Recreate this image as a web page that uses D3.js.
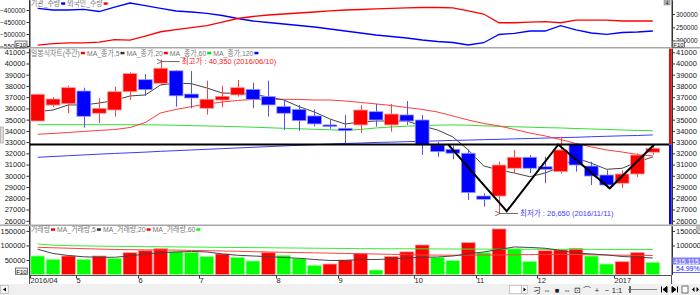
<!DOCTYPE html>
<html>
<head>
<meta charset="utf-8">
<script src="https://cdn.jsdelivr.net/npm/d3@7"></script>
<style>
  body { margin: 0; background: #fff; }
  svg text { font-family: "Liberation Sans", "Noto Sans CJK KR", sans-serif; }
</style>
</head>
<body>
<svg id="chart" width="700" height="295"></svg>
<script>
// Weekly candles, week ending 2016/04/15 .. 2017/01/20
var opens  = [34880, 36300, 36420, 37550, 35570, 35860, 37490, 38560, 38240, 39350, 37280, 36010, 36750, 37200, 37700, 37050, 36160, 35920, 35330, 34530, 34230, 34530, 35710, 34530, 35420, 34970, 32750, 32360, 32010, 28200, 28200, 30670, 31650, 30810, 30370, 32810, 30870, 30070, 29340, 30160, 32100];
var highs  = [37300, 37000, 38030, 37850, 36900, 37940, 39220, 39040, 40350, 39400, 39330, 38470, 38000, 38530, 38290, 38470, 36750, 36310, 35920, 34970, 35420, 36300, 36400, 36400, 36660, 35420, 33040, 32660, 32360, 28450, 31260, 32300, 31850, 31700, 33490, 32900, 31260, 30500, 30500, 32000, 32800];
var lows   = [34880, 36100, 35570, 34290, 34680, 35270, 36750, 37130, 38030, 36160, 36010, 35450, 36100, 37050, 36010, 35270, 34080, 34000, 34400, 34200, 32900, 33840, 34380, 33930, 34530, 31850, 31700, 31470, 27850, 27250, 26650, 30230, 30230, 29340, 30200, 30370, 29180, 28900, 28890, 29900, 31900];
var closes = [37260, 36840, 37850, 35300, 36010, 37490, 39100, 37670, 39580, 37120, 36930, 36820, 37080, 37850, 36810, 36310, 35570, 34910, 34620, 34380, 34020, 35860, 34970, 35500, 34880, 32750, 32150, 32010, 28500, 27910, 30960, 31650, 30670, 30580, 32300, 30960, 29980, 29180, 30160, 31850, 32450];

// price moving averages
var ma5   = [35710, 35860, 36310, 36310, 36480, 36710, 37110, 37200, 38100, 38250, 38200, 37820, 37370, 37350, 37260, 37020, 36750, 36160, 35680, 35060, 34610, 34800, 34880, 34880, 34880, 34440, 34080, 33460, 32300, 30880, 30520, 30250, 29920, 30250, 30790, 31590, 31120, 30580, 30670, 31230, 31680];
var ma20  = [33700, 33770, 33860, 33950, 34040, 34120, 34300, 34750, 35600, 35910, 36160, 36400, 36570, 36710, 36800, 36810, 36810, 36800, 36750, 36750, 36660, 36530, 36400, 36260, 36080, 35910, 35680, 35330, 34970, 34660, 34440, 34130, 33810, 33550, 33230, 32880, 32570, 32300, 32120, 31900, 31770];
var ma60  = [34550, 34550, 34550, 34550, 34550, 34550, 34550, 34540, 34530, 34500, 34470, 34440, 34410, 34370, 34330, 34280, 34230, 34190, 34140, 34100, 34040, 34130, 34260, 34350, 34420, 34470, 34510, 34530, 34510, 34450, 34410, 34370, 34330, 34290, 34260, 34210, 34170, 34130, 34080, 34040, 34010];
var ma120 = [31650, 31720, 31790, 31860, 31930, 31990, 32050, 32110, 32180, 32240, 32300, 32360, 32420, 32480, 32540, 32600, 32660, 32720, 32770, 32830, 32880, 32920, 32970, 33000, 33040, 33070, 33110, 33150, 33180, 33220, 33250, 33290, 33320, 33360, 33400, 33430, 33480, 33520, 33560, 33590, 33640];

// volume and its moving averages
var volumes = [63800, 52400, 63800, 52400, 63800, 55900, 75200, 82100, 89000, 78600, 76500, 61400, 70700, 59300, 46600, 75200, 66200, 54500, 31700, 36200, 50000, 72000, 15500, 62000, 78000, 101700, 59300, 48000, 109700, 75200, 156900, 87900, 45000, 82100, 84500, 90300, 63800, 36200, 44100, 75200, 42000];
var volMa5  = [86900, 72400, 65500, 61000, 59300, 59300, 63800, 70700, 75200, 77600, 79300, 77600, 70700, 66200, 63800, 61400, 58600, 55900, 51700, 48300, 48300, 51700, 51700, 53400, 56900, 59300, 60300, 63800, 70700, 77600, 86200, 94800, 93100, 90300, 82800, 74100, 70700, 67200, 62100, 59300, 56900];
var volMa20 = [93800, 92000, 90500, 89000, 87500, 86200, 85500, 85000, 84500, 84000, 83000, 82000, 81000, 80000, 78500, 77600, 76500, 75500, 74500, 73500, 72400, 71500, 70500, 69500, 68500, 67200, 66800, 66500, 66800, 67000, 67200, 68000, 68500, 69000, 69000, 69000, 68000, 67000, 66500, 66000, 65500];
var volMa60 = [105000, 101000, 99500, 98500, 97500, 97000, 96500, 96000, 95500, 95000, 94500, 94000, 93500, 93000, 92500, 92000, 91500, 91000, 90500, 90000, 89500, 89000, 88800, 88600, 88400, 88200, 88000, 87800, 87600, 87400, 87200, 87000, 86900, 86800, 86700, 86600, 86500, 86400, 86300, 86200, 86100];

// investor flows (top panel)
var instQty    = [-392900, -400000, -400000, -397100, -406300, -387500, -370800, -381300, -392900, -404200, -408300, -413800, -422900, -435400, -445800, -452100, -458300, -464600, -470800, -479200, -487500, -495800, -504200, -510400, -516700, -525000, -531300, -535400, -545800, -536300, -502100, -497100, -487500, -487500, -465400, -483300, -495800, -501300, -493800, -491700, -487500];
var foreignQty = [183500, 189100, 192100, 192100, 194700, 204100, 202300, 217300, 233500, 241700, 249200, 256800, 269900, 283100, 290600, 296200, 300000, 303800, 307500, 311300, 315000, 316900, 318800, 320700, 322600, 324400, 324400, 322600, 311300, 300000, 267300, 267300, 269900, 271100, 267300, 277400, 277400, 277400, 273700, 273700, 273700];

// axis ticks
var monthStarts = [0, 3, 7, 11, 16, 20, 25, 29, 33, 38];
var monthLabels = ["2016/04", "5", "6", "7", "8", "9", "10", "11", "12", "2017"];
var priceTicks = d3.range(26000, 41001, 1000);
var volTicks = [50000, 100000, 150000];
var volTicksRight = [100000, 150000];
var instTicks = [-400000, -450000, -500000, -550000];
var foreignTicks = [200000, 250000, 300000];

// drawn objects
var neckline = 32780;
var zigzag = [{i: 26.7, p: 32780}, {i: 30.5, p: 26850}, {i: 33.85, p: 32780}, {i: 37.2, p: 28890}, {i: 40.1, p: 32780}];
var highMark = {i: 8, p: 40350, label: "최고가 : 40,350 (2016/06/10)"};
var lowMark = {i: 30, p: 26650, label: "최저가 : 26,650 (2016/11/11)"};

var flowLegend = [{t: "기관_수량", c: "#0000ff"}, {t: "외국인_수량", c: "#ff0000"}];
var priceLegend = [{t: "일봉식차트(주간)", c: "#ff0000"}, {t: "MA_종가,5", c: "#333"}, {t: "MA_종가,20", c: "#ff0000"}, {t: "MA_종가,60", c: "#00dd00"}, {t: "MA_종가,120", c: "#0000ff"}];
var volLegend = [{t: "거래량", c: "#ff0000"}, {t: "MA_거래량,5", c: "#333"}, {t: "MA_거래량,20", c: "#ff0000"}, {t: "MA_거래량,60", c: "#00ff00"}];

var RED = "#ff0000", BLUE = "#0000ff", GREEN = "#00ff00";

var svg = d3.select("#chart");
var plotL = 30, plotR = 669;

// panels
var flowP = {top: 0, bottom: 47};
var priceP = {top: 48.5, bottom: 224.5};
var volP = {top: 226, bottom: 275};

// scales
var x = d3.scaleBand().domain(d3.range(opens.length)).range([30, 660.5]).paddingInner(0.1).paddingOuter(0.05);
var step = x.step(), bw = x.bandwidth();
function xc(i) { return x(0) + bw / 2 + i * step; }

var yP = d3.scaleLinear().domain([25620, 41380]).range([225, 48]);
var yV = d3.scaleLinear().domain([0, 167000]).range([274.5, 226]);
var yI = d3.scaleLinear().domain([-554200, -358300]).range([47, 0]);
var yF = d3.scaleLinear().domain([176400, 352400]).range([47, 0]);

// clip paths
var defs = svg.append("defs");
[["clipFlow", flowP], ["clipPrice", priceP], ["clipVol", volP]].forEach(function(c) {
    defs.append("clipPath").attr("id", c[0]).append("rect")
        .attr("x", plotL).attr("y", c[1].top)
        .attr("width", plotR - plotL).attr("height", c[1].bottom - c[1].top);
});
defs.append("marker").attr("id", "arrow").attr("viewBox", "0 0 6 6")
    .attr("refX", 0).attr("refY", 3).attr("markerWidth", 5).attr("markerHeight", 5)
    .attr("orient", "auto-start-reverse")
    .append("path").attr("d", "M6,0 L0,3 L6,6").attr("fill", "none").attr("stroke", "#555");

// bottom toolbar background
svg.append("rect").attr("x", 0).attr("y", 284).attr("width", 700).attr("height", 11).attr("fill", "#f0f0f0");

// axis helper
function styleAxis(size) {
    return function(g) {
        g.selectAll("text").attr("font-size", size).attr("fill", "#222");
        g.selectAll("line").attr("stroke", "#333");
        g.select(".domain").attr("stroke", "#333");
    };
}

// ---------- top panel: investor flows ----------
svg.append("g").attr("transform", "translate(29.5,0)")
    .call(d3.axisLeft(yI).tickValues(instTicks).tickSize(3).tickSizeOuter(0).tickPadding(1).tickFormat(d3.format("d")))
    .call(styleAxis("6.5px"));
svg.append("g").attr("transform", "translate(672,0)")
    .call(d3.axisRight(yF).tickValues(foreignTicks).tickSize(3).tickSizeOuter(0).tickPadding(1).tickFormat(d3.format("d")))
    .call(styleAxis("6.5px"));

var flowG = svg.append("g").attr("clip-path", "url(#clipFlow)");
flowG.append("path").datum(instQty)
    .attr("fill", "none").attr("stroke", BLUE).attr("stroke-width", 1.3)
    .attr("d", d3.line().x(function(d, i) { return xc(i); }).y(function(d) { return yI(d); }));
flowG.append("path").datum(foreignQty)
    .attr("fill", "none").attr("stroke", RED).attr("stroke-width", 1.3)
    .attr("d", d3.line().x(function(d, i) { return xc(i); }).y(function(d) { return yF(d); }));

// ---------- price panel ----------
svg.append("g").attr("transform", "translate(29.5,0)")
    .call(d3.axisLeft(yP).tickValues(priceTicks).tickSize(3).tickSizeOuter(0).tickPadding(1).tickFormat(d3.format("d")))
    .call(styleAxis("7.5px"));
svg.append("g").attr("transform", "translate(672,0)")
    .call(d3.axisRight(yP).tickValues(priceTicks).tickSize(3).tickSizeOuter(0).tickPadding(1).tickFormat(d3.format("d")))
    .call(styleAxis("7.5px"));

var priceG = svg.append("g").attr("clip-path", "url(#clipPrice)");

// moving averages under candles
var maLine = d3.line().x(function(d, i) { return xc(i); }).y(function(d) { return yP(d); });
[[ma120, "#3a3aff"], [ma60, "#33dd33"], [ma20, "#ff3a3a"], [ma5, "#444"]].forEach(function(m) {
    priceG.append("path").datum(m[0])
        .attr("fill", "none").attr("stroke", m[1]).attr("stroke-width", 1)
        .attr("d", maLine);
});

var candles = priceG.selectAll(".candle")
    .data(opens.map(function(o, i) { return {i: i, o: o, h: highs[i], l: lows[i], c: closes[i]}; }))
    .enter().append("g").attr("class", "candle");

candles.append("line")
    .attr("x1", function(d) { return Math.round(xc(d.i)) + 0.5; })
    .attr("x2", function(d) { return Math.round(xc(d.i)) + 0.5; })
    .attr("y1", function(d) { return yP(d.h); })
    .attr("y2", function(d) { return yP(d.l); })
    .attr("stroke", function(d) { return d.c >= d.o ? "#ff4040" : "#5050ff"; });

candles.append("rect")
    .attr("x", function(d) { return x(d.i); })
    .attr("width", bw)
    .attr("y", function(d) { return yP(Math.max(d.o, d.c)); })
    .attr("height", function(d) { return Math.max(1, yP(Math.min(d.o, d.c)) - yP(Math.max(d.o, d.c))); })
    .attr("fill", function(d) { return d.c >= d.o ? RED : BLUE; })
    .attr("stroke", function(d) { return d.c >= d.o ? "#ff9a9a" : "#9a9aff"; })
    .attr("stroke-width", 0.8);

// neckline and zigzag pattern
priceG.append("line")
    .attr("x1", plotL).attr("x2", plotR)
    .attr("y1", yP(neckline)).attr("y2", yP(neckline))
    .attr("stroke", "#000").attr("stroke-width", 2);
priceG.append("path").datum(zigzag)
    .attr("fill", "none").attr("stroke", "#000").attr("stroke-width", 2)
    .attr("d", d3.line().x(function(d) { return xc(d.i); }).y(function(d) { return yP(d.p); }));

// high / low notes (the high note sits a little under the wick top)
[[highMark, "#ff2020", 2], [lowMark, "#4040ff", 0]].forEach(function(m) {
    var mk = m[0], yy = yP(mk.p) + m[2];
    priceG.append("line")
        .attr("x1", xc(mk.i) + 1).attr("x2", xc(mk.i) + 19)
        .attr("y1", yy).attr("y2", yy)
        .attr("stroke", "#666").attr("stroke-width", 1)
        .attr("marker-start", "url(#arrow)");
    priceG.append("text")
        .attr("x", xc(mk.i) + 21).attr("y", yy).attr("dy", "0.35em")
        .attr("font-size", "7.5px").attr("fill", m[1])
        .text(mk.label);
});

// price bar at right edge
svg.append("rect").attr("x", 669).attr("y", priceP.top).attr("width", 2.5)
    .attr("height", yP(neckline) - priceP.top).attr("fill", RED);
svg.append("rect").attr("x", 669).attr("y", yP(neckline)).attr("width", 2.5)
    .attr("height", priceP.bottom - yP(neckline)).attr("fill", BLUE);

// ---------- volume panel ----------
svg.append("g").attr("transform", "translate(29.5,0)")
    .call(d3.axisLeft(yV).tickValues(volTicks).tickSize(3).tickSizeOuter(0).tickPadding(1).tickFormat(d3.format("d")))
    .call(styleAxis("7.5px"));
svg.append("g").attr("transform", "translate(672,0)")
    .call(d3.axisRight(yV).tickValues(volTicksRight).tickSize(3).tickSizeOuter(0).tickPadding(1).tickFormat(d3.format("d")))
    .call(styleAxis("7.5px"));

var volG = svg.append("g").attr("clip-path", "url(#clipVol)");
volG.selectAll(".vbar").data(volumes).enter().append("rect")
    .attr("class", "vbar")
    .attr("x", function(d, i) { return x(i); })
    .attr("width", bw)
    .attr("y", function(d) { return yV(d); })
    .attr("height", function(d) { return yV(0) - yV(d); })
    .attr("fill", function(d, i) { return i > 0 && d > volumes[i - 1] ? RED : GREEN; })
    .attr("stroke", function(d, i) { return i > 0 && d > volumes[i - 1] ? "#ffa0a0" : "#a0ffa0"; })
    .attr("stroke-width", 0.8);

var vLine = d3.line().x(function(d, i) { return xc(i); }).y(function(d) { return yV(d); });
[[volMa60, "#33ee33"], [volMa20, "#ff4040"], [volMa5, "#444"]].forEach(function(m) {
    volG.append("path").datum(m[0])
        .attr("fill", "none").attr("stroke", m[1]).attr("stroke-width", 1)
        .attr("d", vLine);
});

// last-volume boxes on right
svg.append("rect").attr("x", 672).attr("y", 257.5).attr("width", 28).attr("height", 7).attr("fill", "#8080ff");
svg.append("text").attr("x", 674).attr("y", 263.5).attr("font-size", "7px").attr("fill", "#fff").text("415,115");
svg.append("text").attr("x", 676).attr("y", 271).attr("font-size", "7px").attr("fill", "#2020ff").text("54.99%");
svg.append("line").attr("x1", 673).attr("x2", 700).attr("y1", 272.5).attr("y2", 272.5).attr("stroke", "#2020ff").attr("stroke-width", 0.7);

// ---------- x axis ----------
svg.append("line").attr("x1", 29).attr("x2", 672).attr("y1", 275.5).attr("y2", 275.5).attr("stroke", "#555");
svg.append("line").attr("x1", 671.5).attr("x2", 671.5).attr("y1", 275).attr("y2", 284).attr("stroke", "#555");
svg.append("line").attr("x1", 29.5).attr("x2", 29.5).attr("y1", 275).attr("y2", 284).attr("stroke", "#555");
var xTicks = svg.append("g");
monthStarts.forEach(function(m, k) {
    var tx = Math.round(x(m) - (step - bw) / 2) + 0.5;
    xTicks.append("line").attr("x1", tx).attr("x2", tx).attr("y1", 275.5).attr("y2", 278.5).attr("stroke", "#333");
    xTicks.append("text").attr("x", tx).attr("y", 283).attr("font-size", "7.5px").attr("fill", "#222").text(monthLabels[k]);
});

// panel separators and frames
[flowP, priceP, volP].forEach(function(p) {
    svg.append("line").attr("x1", 29.5).attr("x2", 29.5).attr("y1", p.top).attr("y2", p.bottom).attr("stroke", "#333");
    svg.append("line").attr("x1", 672).attr("x2", 672).attr("y1", p.top).attr("y2", p.bottom).attr("stroke", "#333");
});
svg.append("rect").attr("x", 0).attr("y", 47).attr("width", 700).attr("height", 1.5).attr("fill", "#a8a8a8");
svg.append("rect").attr("x", 0).attr("y", 224.5).attr("width", 700).attr("height", 1.5).attr("fill", "#a8a8a8");

// legends (the original uses a narrow bitmap font, so squeeze horizontally)
function legend(items, y0) {
    var g = svg.append("g");
    var cx = 31, squeeze = 0.92;
    items.forEach(function(it) {
        var t = g.append("text")
            .attr("transform", "translate(" + cx + "," + y0 + ") scale(" + squeeze + ",1)")
            .attr("dy", "0.35em")
            .attr("font-size", "7.5px").attr("fill", "#777").text(it.t);
        cx += t.node().getComputedTextLength() * squeeze + 1;
        g.append("rect").attr("x", cx).attr("y", y0 - 1.2).attr("width", 4).attr("height", 2.5).attr("fill", it.c);
        cx += 6;
    });
}
legend(flowLegend, 3.5);
legend(priceLegend, 53);
legend(volLegend, 229.5);

// small boxes
function f10(bx, by) {
    svg.append("rect").attr("x", bx).attr("y", by).attr("width", 12).attr("height", 6.5)
        .attr("fill", "#eee").attr("stroke", "#444").attr("stroke-width", 0.7);
    svg.append("text").attr("x", bx + 6).attr("y", by + 5.6).attr("text-anchor", "middle")
        .attr("font-size", "6px").attr("fill", "#222").text("F10");
}
f10(15, 41);
f10(672.5, 41);
f10(15.5, 268);
svg.append("rect").attr("x", 664).attr("y", 0).attr("width", 6).attr("height", 5).attr("fill", "#bbb").attr("stroke", "#777").attr("stroke-width", 0.5);
svg.append("text").attr("x", 667).attr("y", 4.5).attr("text-anchor", "middle").attr("font-size", "5.5px").attr("fill", "#222").text("4");
svg.append("rect").attr("x", 696).attr("y", 226).attr("width", 4).attr("height", 5).attr("fill", "#bbb");
svg.append("rect").attr("x", 0.5).attr("y", 127).attr("width", 3).attr("height", 16).attr("fill", "#ddd").attr("stroke", "#999").attr("stroke-width", 0.6);

// toolbar (left scroll button and right controls)
var tb = svg.append("g");
tb.append("rect").attr("x", 0.5).attr("y", 285.5).attr("width", 8).attr("height", 8).attr("fill", "#f6f6f6").attr("stroke", "#aaa").attr("stroke-width", 0.6);
tb.append("path").attr("d", "M3,289.5 L6,287.5 L6,291.5 Z").attr("fill", "#000");
tb.append("rect").attr("x", 509.5).attr("y", 285.5).attr("width", 12).attr("height", 8).attr("fill", "#fff").attr("stroke", "#aaa").attr("stroke-width", 0.6);
tb.append("rect").attr("x", 521.5).attr("y", 285.5).attr("width", 6).attr("height", 8).attr("fill", "#f6f6f6").attr("stroke", "#aaa").attr("stroke-width", 0.6);
tb.append("path").attr("d", "M523.5,287.5 L526,289.5 L523.5,291.5 Z").attr("fill", "#000");
var icons = ["刁", "⇔", "■", "⇔", "⊡", "⌒", "+", "−", "1:1"];
icons.forEach(function(s, k) {
    tb.append("text").attr("x", 537 + k * 10).attr("y", 292.5).attr("text-anchor", "middle")
        .attr("font-size", "7.5px").attr("fill", "#222").text(s);
});
tb.append("line").attr("x1", 628).attr("x2", 657).attr("y1", 289.5).attr("y2", 289.5).attr("stroke", "#888");
tb.append("rect").attr("x", 629).attr("y", 286).attr("width", 2).attr("height", 7).attr("fill", "#666");
tb.append("path").attr("d", "M661.5,286.5 V292.5 M667,286.5 L663,289.5 L667,292.5 Z").attr("stroke", "#000").attr("fill", "#000");
tb.append("path").attr("d", "M677.5,286.5 V292.5 M672,286.5 L676,289.5 L672,292.5 Z").attr("stroke", "#000").attr("fill", "#000");
tb.append("rect").attr("x", 682).attr("y", 286).attr("width", 6).attr("height", 7).attr("fill", "#fff").attr("stroke", "#333").attr("stroke-width", 0.7);
tb.append("path").attr("d", "M692,289.5 L694.5,287 L694.5,292 Z M699,289.5 L696.5,287 L696.5,292 Z").attr("fill", "#000");
</script>
</body>
</html>
